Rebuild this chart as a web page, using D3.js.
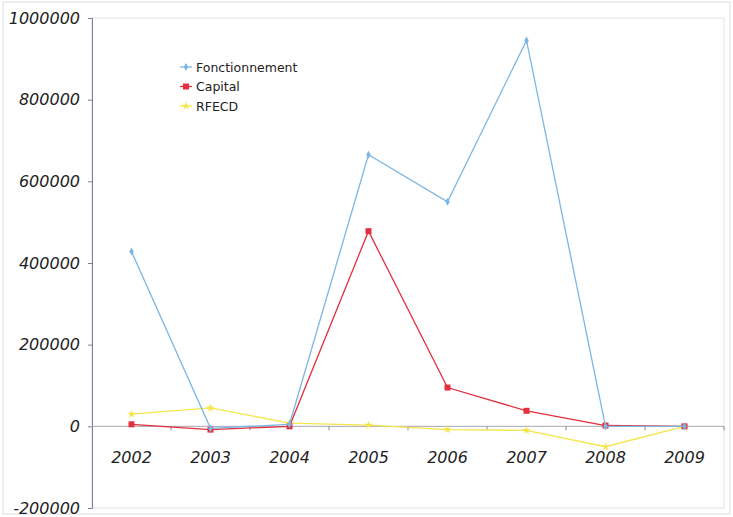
<!DOCTYPE html>
<html>
<head>
<meta charset="utf-8">
<script src="https://cdn.jsdelivr.net/npm/d3@7"></script>
<style>
  body { margin: 0; background: #fff; }
  .tick text { font-family: "DejaVu Sans", sans-serif; font-style: italic; fill: #222; }
</style>
</head>
<body>
<script>
var years = ["2002", "2003", "2004", "2005", "2006", "2007", "2008", "2009"];
var fonctionnement = [428000, -5000, 5000, 665000, 550000, 945000, 0, 0];
var capital = [5000, -8000, 0, 478000, 95000, 38000, 2000, 0];
var rfecd = [30000, 45000, 8000, 3000, -8000, -10000, -50000, 0];
var yTicks = [-200000, 0, 200000, 400000, 600000, 800000, 1000000];

var width = 733, height = 517;
var margin = { top: 18, right: 10, bottom: 9, left: 92 };

var svg = d3.select("body").append("svg")
    .attr("width", width)
    .attr("height", height);

// cadre extérieur
svg.append("rect")
    .attr("x", 3).attr("y", 2)
    .attr("width", width - 6).attr("height", height - 5)
    .attr("fill", "none").attr("stroke", "#ddd");

var x = d3.scaleBand().domain(years).range([margin.left, 724]);
var y = d3.scaleLinear().domain([-200000, 1000000]).range([508, margin.top]);

// zone du graphique
svg.append("rect")
    .attr("x", margin.left).attr("y", margin.top)
    .attr("width", 724 - margin.left).attr("height", 508 - margin.top)
    .attr("fill", "none").attr("stroke", "#e2e2e2");

var yAxis = svg.append("g")
    .attr("transform", "translate(" + margin.left + ",0)")
    .call(d3.axisLeft(y).tickValues(yTicks).tickSize(4).tickPadding(8)
        .tickFormat(function (d) { return String(d); }));
yAxis.select(".domain").attr("stroke", "#7a7f99");
yAxis.selectAll(".tick line").attr("stroke", "#7a7f99");
yAxis.selectAll(".tick text").attr("font-size", 16);

// axe des x sur le zéro, graduations entre les années
var xAxis = svg.append("g")
    .attr("transform", "translate(0," + y(0) + ")");
xAxis.append("line")
    .attr("x1", margin.left).attr("x2", 724)
    .attr("stroke", "#a8a8b4");
xAxis.selectAll(".xt")
    .data(years)
    .enter()
    .append("line")
    .attr("class", "xt")
    .attr("x1", function (d) { return x(d) + x.bandwidth(); })
    .attr("x2", function (d) { return x(d) + x.bandwidth(); })
    .attr("y1", 0).attr("y2", 4)
    .attr("stroke", "#888");
xAxis.selectAll(".xl")
    .data(years)
    .enter()
    .append("text")
    .attr("class", "xl")
    .attr("x", function (d) { return x(d) + x.bandwidth() / 2; })
    .attr("y", 37)
    .attr("text-anchor", "middle")
    .attr("font-family", "DejaVu Sans, sans-serif")
    .attr("font-style", "italic")
    .attr("font-size", 16)
    .attr("fill", "#222")
    .text(function (d) { return d; });

var series = [
    { name: "Fonctionnement", values: fonctionnement, color: "#7db6e3", shape: d3.symbolDiamond, size: 18 },
    { name: "Capital", values: capital, color: "#e2303e", shape: d3.symbolSquare, size: 36 },
    { name: "RFECD", values: rfecd, color: "#f4e64a", shape: d3.symbolStar, size: 22 }
];

var line = d3.line()
    .x(function (d, i) { return x(years[i]) + x.bandwidth() / 2; })
    .y(function (d) { return y(d); });

// RFECD derrière, Fonctionnement devant
series.slice().reverse().forEach(function (s) {
    svg.append("path")
        .attr("d", line(s.values))
        .attr("fill", "none")
        .attr("stroke", s.color)
        .attr("stroke-width", 1.3);
    svg.selectAll(null)
        .data(s.values)
        .enter()
        .append("path")
        .attr("d", d3.symbol().type(s.shape).size(s.size))
        .attr("transform", function (d, i) {
            return "translate(" + (x(years[i]) + x.bandwidth() / 2) + "," + y(d) + ")";
        })
        .attr("fill", s.color);
});

// légende
var legend = svg.append("g")
    .attr("transform", "translate(186,67)");
var items = legend.selectAll("g")
    .data(series)
    .enter()
    .append("g")
    .attr("transform", function (d, i) { return "translate(0," + i * 19.5 + ")"; });
items.append("line")
    .attr("x1", -6).attr("x2", 6)
    .attr("stroke", function (d) { return d.color; })
    .attr("stroke-width", 1.3);
items.append("path")
    .attr("d", function (d) { return d3.symbol().type(d.shape).size(d.size)(); })
    .attr("fill", function (d) { return d.color; });
items.append("text")
    .attr("x", 10)
    .attr("y", 4.5)
    .attr("font-family", "DejaVu Sans, sans-serif")
    .attr("font-size", 12.5)
    .attr("fill", "#222")
    .text(function (d) { return d.name; });
</script>
</body>
</html>
